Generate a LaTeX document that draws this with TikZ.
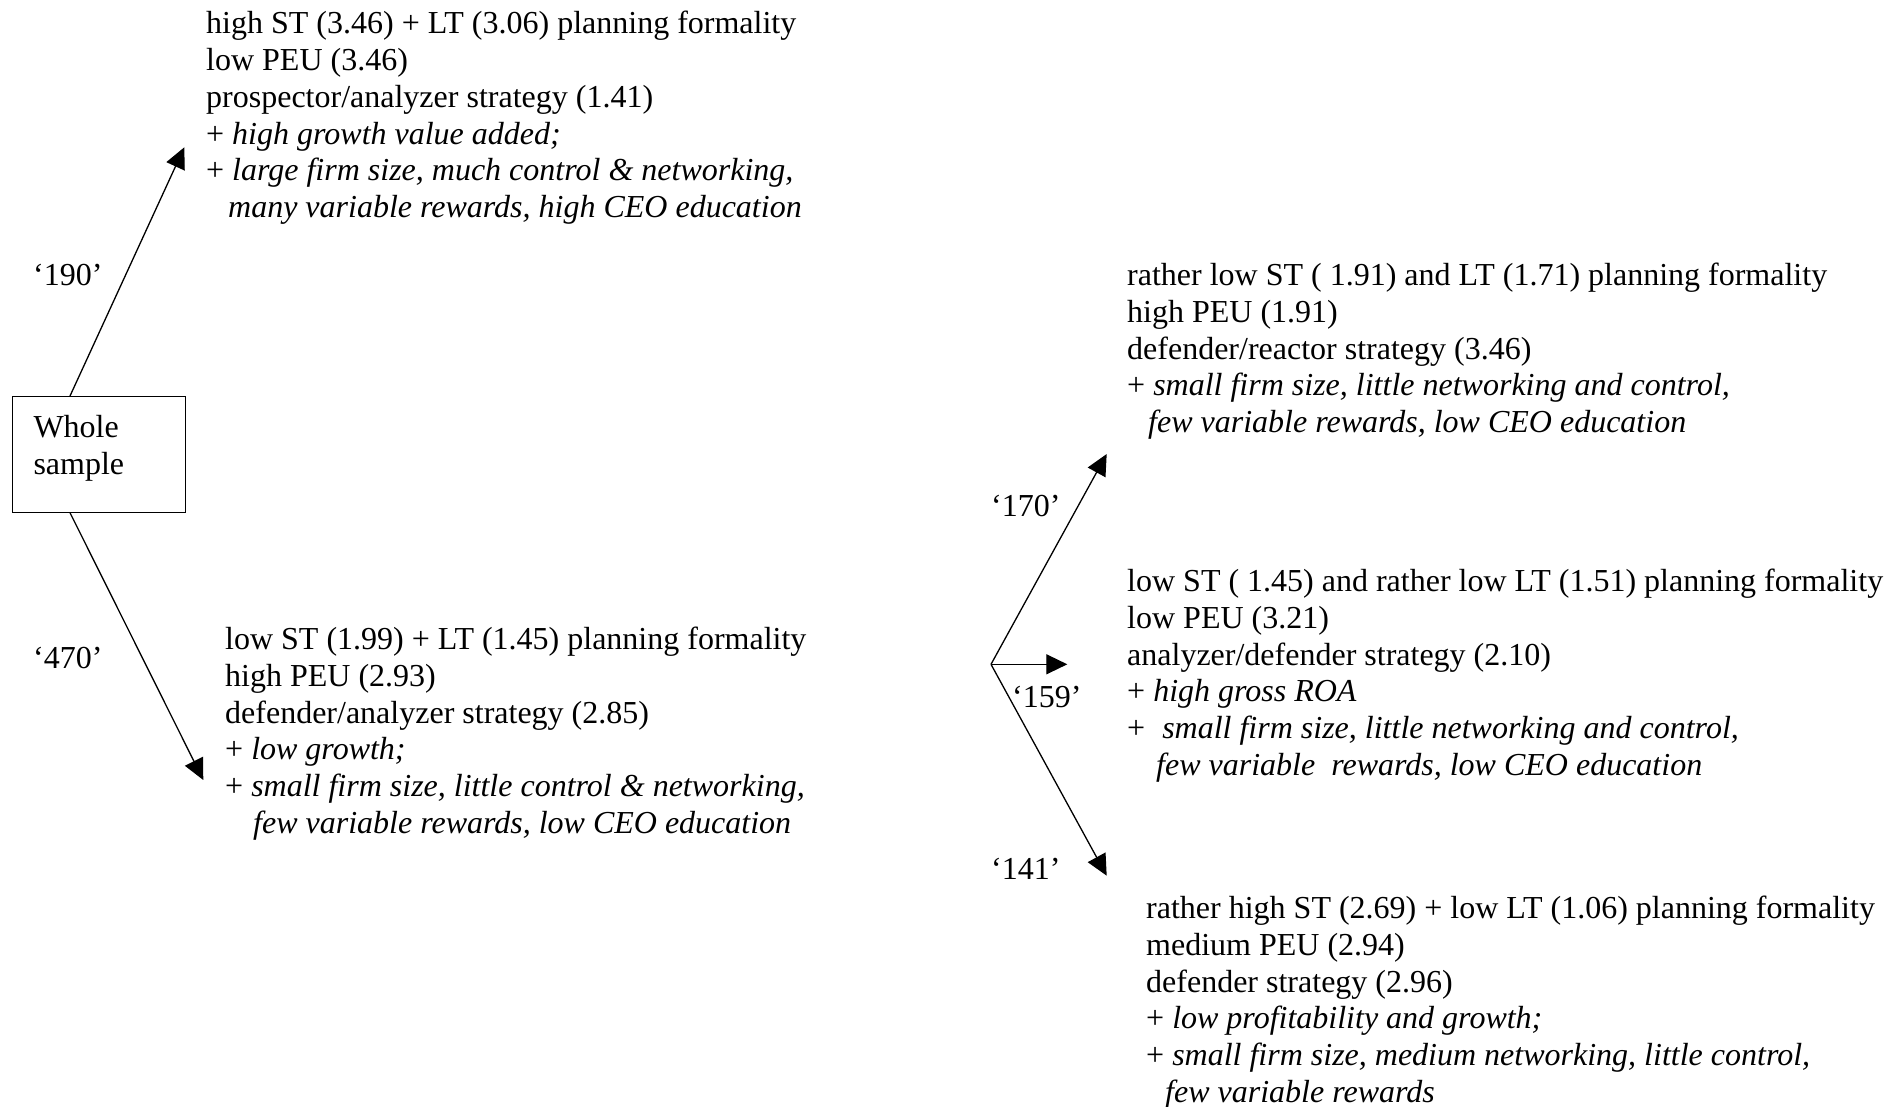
\documentclass[tikz,border=0pt]{standalone}
\usepackage{fontspec}
\setmainfont{Liberation Serif}
\usetikzlibrary{arrows.meta}
\newcommand{\blockfont}{\fontsize{32}{36.8}\selectfont}
\begin{document}
\begin{tikzpicture}[x=1pt,y=-1pt,
  txt/.style={anchor=north west,inner sep=0pt,align=left,font=\blockfont},
  lbl/.style={anchor=base west,inner sep=0pt,font=\blockfont},
  arr/.style={line width=1.3pt,-{Triangle[length=21pt,width=20pt]}},
  boxstyle/.style={draw,line width=1pt,anchor=north west,inner sep=0pt,minimum width=173.3pt,minimum height=115.7pt}]
\useasboundingbox (0,0) rectangle (1898,1106);

% whole sample box
\node[boxstyle] (whole) at (11.7,396) {};
\node[txt] (wholetxt) at (33.3,412) {\strut Whole\\sample};

% block A
\node[txt] (blockA) at (206,7.7) {\strut high ST (3.46) + LT (3.06) planning formality\\
low PEU (3.46)\\
prospector/analyzer strategy (1.41)\\
+ \textit{high growth value added;}\\
+ \textit{large firm size, much control \& networking,}\\
\hspace*{22pt}\textit{many variable rewards, high CEO education}};

% block B
\node[txt] (blockB) at (225,623.5) {\strut low ST (1.99) + LT (1.45) planning formality\\
high PEU (2.93)\\
defender/analyzer strategy (2.85)\\
+ \textit{low growth;}\\
+ \textit{small firm size, little control \& networking,}\\
\hspace*{28pt}\textit{few variable rewards, low CEO education}};

% block C
\node[txt] (blockC) at (1127,259.5) {\strut rather low ST ( 1.91) and LT (1.71) planning formality\\
high PEU (1.91)\\
defender/reactor strategy (3.46)\\
+ \textit{small firm size, little networking and control,}\\
\hspace*{21pt}\textit{few variable rewards, low CEO education}};

% block D
\node[txt] (blockD) at (1127,565.5) {\strut low ST ( 1.45) and rather low LT (1.51) planning formality\\
low PEU (3.21)\\
analyzer/defender strategy (2.10)\\
+ \textit{high gross ROA}\\
+\hspace{9pt} \textit{small firm size, little networking and control,}\\
\hspace*{29pt}\textit{few variable\hspace{8pt} rewards, low CEO education}};

% block E
\node[txt] (blockE) at (1146,892.5) {\strut rather high ST (2.69) + low LT (1.06) planning formality\\
medium PEU (2.94)\\
defender strategy (2.96)\\
+ \textit{low profitability and growth;}\\
+ \textit{small firm size, medium networking, little control,}\\
\hspace*{19pt}\textit{few variable rewards}};

% labels
\node[lbl] (l190) at (33,285) {‘190’};
\node[lbl] (l470) at (33,668) {‘470’};
\node[lbl] (l170) at (991,516) {‘170’};
\node[lbl] (l159) at (1012,707) {‘159’};
\node[lbl] (l141) at (991,879) {‘141’};

% arrows
\coordinate (tipA) at (184.3,147.3);
\coordinate (tipB) at (203.3,780);
\coordinate (fork) at (991,664.3);
\coordinate (tipC) at (1106.7,454);
\coordinate (tipD) at (1067.3,664.3);
\coordinate (tipE) at (1106.7,875.7);
\draw[arr] ([xshift=58.3pt]whole.north west) -- (tipA);
\draw[arr] ([xshift=58.3pt]whole.south west) -- (tipB);
\draw[arr] (fork) -- (tipC);
\draw[arr] (fork) -- (tipD);
\draw[arr] (fork) -- (tipE);
\end{tikzpicture}
\end{document}
